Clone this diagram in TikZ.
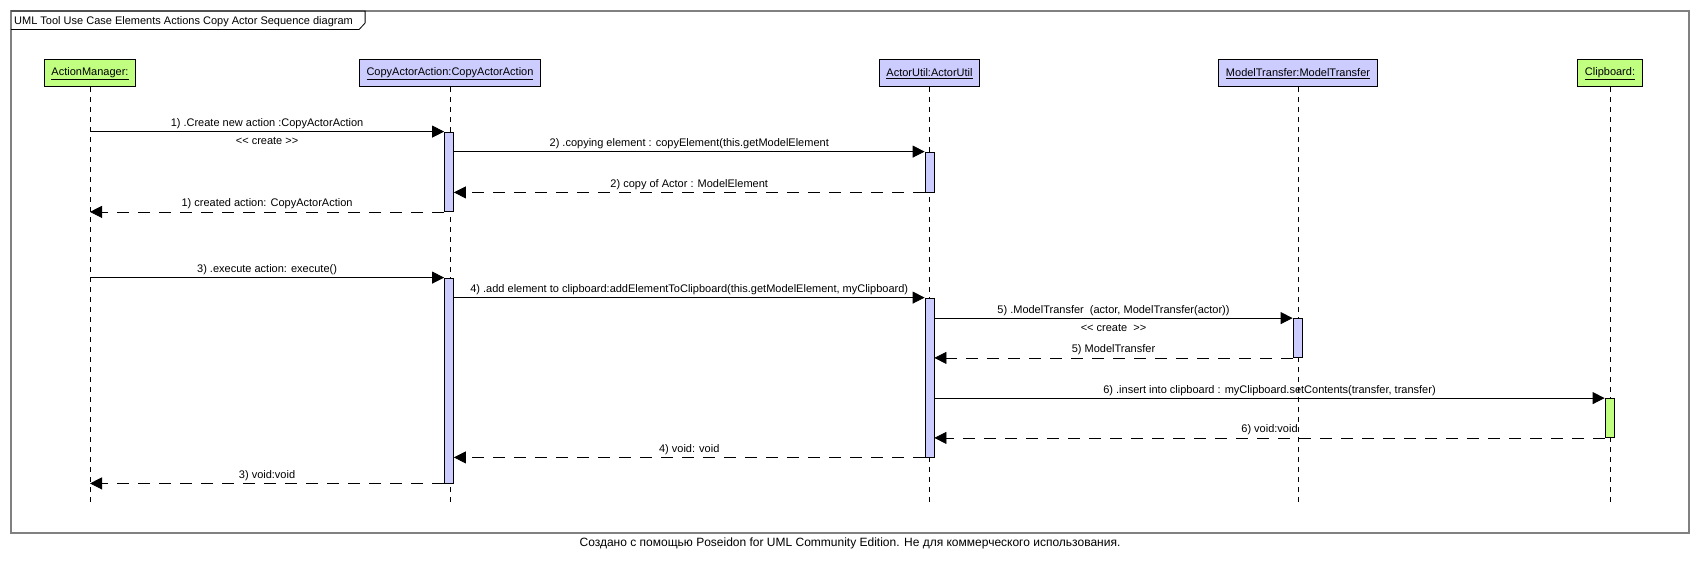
\documentclass[tikz,border=0pt]{standalone}
\usepackage{fontspec}
\setmainfont{Liberation Sans}
\usetikzlibrary{arrows.meta}
\definecolor{headgreen}{RGB}{192,255,128}
\definecolor{headblue}{RGB}{204,204,255}
\definecolor{framegray}{RGB}{128,128,128}
\begin{document}
\begin{tikzpicture}[x=1pt,y=-1pt,
  font=\fontsize{11}{13}\selectfont,
  head/.style={draw=black, line width=1pt, minimum height=26.7pt, inner xsep=7pt, inner ysep=0pt},
  act/.style={draw=black, line width=0.8pt, fill=headblue, minimum width=9pt, inner sep=0pt},
  life/.style={draw=black, line width=0.8pt, dash pattern=on 5pt off 5pt},
  msg/.style={draw=black, line width=0.8pt, -{Triangle[length=12pt,width=12pt]}},
  ret/.style={msg, dash pattern=on 12pt off 9pt},
  lbl/.style={inner sep=0pt, anchor=base},
  framebox/.style={draw=framegray, line width=1.5pt}
]
\fill[white] (0,0) rectangle (1700,565);
\useasboundingbox (0,0) rectangle (1700,565);

% frame and title tab
\draw[framebox] (11,11) rectangle (1689,533);
\node[anchor=base west, inner sep=0pt] (title) at (14,24) {UML Tool Use Case Elements Actions Copy Actor Sequence diagram};
\coordinate (tabR) at ([xshift=12pt]title.east);
\draw[black, line width=0.8pt] (11,11) -- (tabR |- 0,11) -- (tabR |- 0,23) -- ([xshift=-6pt]tabR |- 0,29.5) -- (11,29.5);

% heads
\node[head, fill=headgreen] (am) at (90,73.3) {\underline{ActionManager:}};
\node[head, fill=headblue] (caa) at (450,73.3) {\underline{CopyActorAction:CopyActorAction}};
\node[head, fill=headblue] (au) at (929.5,73.3) {\underline{ActorUtil:ActorUtil}};
\node[head, fill=headblue] (mt) at (1298,73.3) {\underline{ModelTransfer:ModelTransfer}};
\node[head, fill=headgreen] (cb) at (1610,73.3) {\underline{Clipboard:}};

% lifeline ends
\coordinate (amE) at (90,502);
\coordinate (caaE) at (450,502);
\coordinate (auE) at (929.5,502);
\coordinate (mtE) at (1298,502);
\coordinate (cbE) at (1610,502);

\draw[life] (am) -- (amE);
\draw[life] (caa) -- (caaE);
\draw[life] (au) -- (auE);
\draw[life] (mt) -- (mtE);
\draw[life] (cb) -- (cbE);

% activations
\node[act, minimum height=79.5pt] (a1) at (449,171.75) {};
\node[act, minimum height=40pt] (a2) at (929.5,172) {};
\node[act, minimum height=205pt] (a3) at (449,380.5) {};
\node[act, minimum height=159pt] (a4) at (929.5,377.5) {};
\node[act, minimum height=39pt] (a5) at (1297.5,338) {};
\node[act, minimum height=39pt, fill=headgreen] (a6) at (1609.5,418) {};

% messages
\draw[msg] (am |- a1.north) -- (a1.north west)
  node[lbl, midway, yshift=5pt] {1) .Create new action :CopyActorAction}
  node[lbl, midway, yshift=-13pt] {{<}{<} create {>}{>}};
\draw[msg] (a1.east |- a2.north) -- (a2.north west)
  node[lbl, midway, yshift=5pt] {2) .copying element : copyElement(this.getModelElement};
\draw[ret] (a2.south west) -- (a1.east |- a2.south)
  node[lbl, midway, yshift=5pt] {2) copy of Actor : ModelElement};
\draw[ret] (a1.south west) -- (am |- a1.south)
  node[lbl, midway, yshift=5pt] {1) created action: CopyActorAction};
\draw[msg] (am |- a3.north) -- (a3.north west)
  node[lbl, midway, yshift=5pt] {3) .execute action: execute()};
\draw[msg] (a3.east |- a4.north) -- (a4.north west)
  node[lbl, midway, yshift=5pt] {4) .add element to clipboard:addElementToClipboard(this.getModelElement, myClipboard)};
\draw[msg] (a4.east |- a5.north) -- (a5.north west)
  node[lbl, midway, yshift=5pt] {5) .ModelTransfer\ \ (actor, ModelTransfer(actor))}
  node[lbl, midway, yshift=-13pt] {{<}{<} create\ \ {>}{>}};
\draw[ret] (a5.south west) -- (a4.east |- a5.south)
  node[lbl, midway, yshift=5pt] {5) ModelTransfer};
\draw[msg] (a4.east |- a6.north) -- (a6.north west)
  node[lbl, midway, yshift=5pt] {6) .insert into clipboard : myClipboard.setContents(transfer, transfer)};
\draw[ret] (a6.south west) -- (a4.east |- a6.south)
  node[lbl, midway, yshift=5pt] {6) void:void};
\draw[ret] (a4.south west) -- (a3.east |- a4.south)
  node[lbl, midway, yshift=5pt] {4) void: void};
\draw[ret] (a3.south west) -- (am |- a3.south)
  node[lbl, midway, yshift=5pt] {3) void:void};

% footer
\node[anchor=base, font=\fontsize{12}{14}\selectfont] (foot) at (850,546) {Создано с помощью Poseidon for UML Community Edition. Не для коммерческого использования.};
\end{tikzpicture}
\end{document}
